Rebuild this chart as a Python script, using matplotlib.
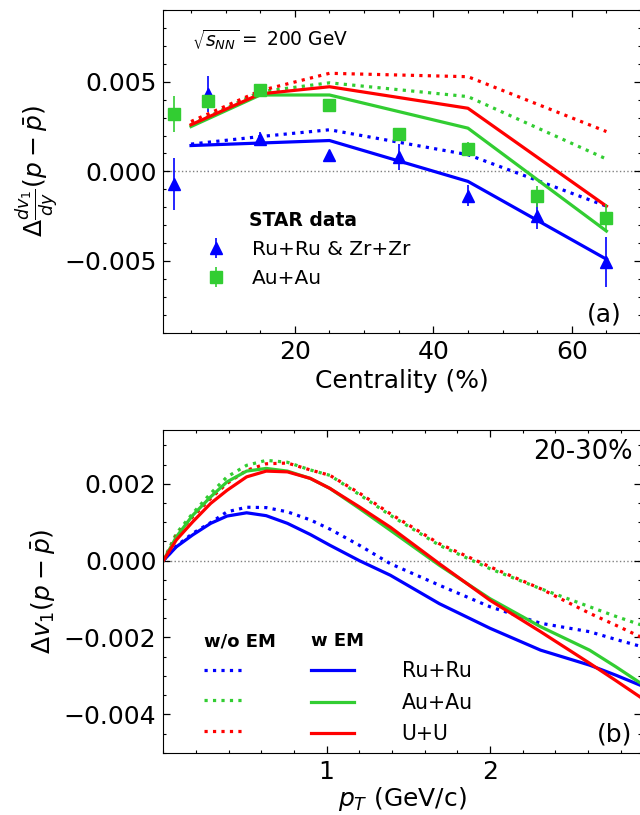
import numpy as np
import matplotlib
matplotlib.use("Agg")
import matplotlib.pyplot as plt
from matplotlib.ticker import MultipleLocator

BLUE, GREEN, RED = "#0000ff", "#32cd32", "#ff0000"

# ---- (a) STAR data vs centrality ----
cent_data = [2.5, 7.5, 15, 25, 35, 45, 55, 65]
isobar_val = [-0.0007, 0.0043, 0.0018, 0.0009, 0.0008, -0.00135, -0.0025, -0.00505]
isobar_err = [0.00145, 0.0010, 0.0004, 0.0002, 0.0007, 0.0006, 0.00074, 0.0014]
auau_val = [0.0032, 0.0039, 0.00454, 0.0037, 0.00208, 0.00124, -0.00139, -0.0026]
auau_err = [0.0010, 0.0004, 0.0002, 0.0003, 0.0003, 0.0004, 0.0006, 0.0008]

# model curves vs centrality
cent_model = [5, 15, 25, 45, 65]
ru_em_c = [0.00144, 0.00158, 0.00172, -0.00056, -0.0049]
ru_noem_c = [0.00152, 0.00194, 0.00232, 0.00093, -0.00194]
au_em_c = [0.0025, 0.00426, 0.00426, 0.00241, -0.00333]
au_noem_c = [0.0026, 0.00444, 0.00494, 0.00417, 0.00069]
u_em_c = [0.0026, 0.00432, 0.00472, 0.00352, -0.00194]
u_noem_c = [0.00278, 0.0045, 0.00547, 0.00528, 0.00222]

# ---- (b) 20-30% vs pT ----
pt = [0.0, 0.08, 0.18, 0.29, 0.39, 0.51, 0.63, 0.76, 0.90, 1.02, 1.20,
      1.39, 1.69, 2.00, 2.31, 2.61, 2.77, 2.93]
ru_em_pt = [0.0, 0.00036, 0.00067, 0.00097, 0.00116, 0.001245, 0.00117, 0.00097,
            0.00068, 0.00040, 0.0000, -0.00038, -0.00112, -0.00176, -0.00233,
            -0.00272, -0.00298, -0.00326]
ru_noem_pt = [0.0, 0.00038, 0.00071, 0.00099, 0.00127, 0.00139, 0.00138, 0.00127,
              0.00106, 0.00082, 0.00040, -0.00008, -0.00064, -0.0012, -0.00163,
              -0.00185, -0.00205, -0.00224]
au_em_pt = [0.0, 0.00062, 0.00118, 0.00166, 0.00205, 0.00233, 0.0024, 0.00233,
            0.00214, 0.00188, 0.00136, 0.00079, -0.00012, -0.00099, -0.00172,
            -0.00233, -0.00276, -0.00321]
au_noem_pt = [0.0, 0.00071, 0.00123, 0.00175, 0.00218, 0.00248, 0.00261, 0.00256,
              0.00236, 0.00222, 0.00172, 0.00118, 0.0004, -0.00021, -0.00073,
              -0.0012, -0.00145, -0.00168]
u_em_pt = [0.0, 0.00054, 0.00101, 0.00149, 0.00183, 0.00218, 0.00233, 0.00231,
           0.00214, 0.00188, 0.0014, 0.00087, -0.00008, -0.00103, -0.00185,
           -0.00267, -0.00312, -0.00358]
u_noem_pt = [0.0, 0.00065, 0.00114, 0.00162, 0.00201, 0.00235, 0.00252, 0.00254,
             0.00236, 0.00222, 0.00176, 0.00122, 0.00044, -0.00016, -0.00073,
             -0.00137, -0.00168, -0.002]

plt.rcParams["font.family"] = "DejaVu Sans"
plt.rcParams["mathtext.fontset"] = "dejavusans"
LW = 2.3


def style_axes(ax):
    ax.tick_params(which="both", direction="in", top=True, right=True,
                   labelsize=18, pad=5)
    ax.tick_params(which="major", length=5, width=0.9)
    ax.tick_params(which="minor", length=2.5, width=0.8)
    ax.axhline(0, color="gray", ls=":", lw=1, zorder=0)


fig = plt.figure(figsize=(6.4, 8.15), dpi=100)
ax1 = fig.add_axes([0.2552, 0.5918, 0.7464, 0.3959])
ax2 = fig.add_axes([0.2552, 0.0764, 0.7464, 0.3960])

# panel (a)
for vals, c in [(ru_noem_c, BLUE), (au_noem_c, GREEN), (u_noem_c, RED)]:
    ax1.plot(cent_model, vals, ls=":", color=c, lw=LW)
for vals, c in [(ru_em_c, BLUE), (au_em_c, GREEN), (u_em_c, RED)]:
    ax1.plot(cent_model, vals, ls="-", color=c, lw=LW)
eb1 = ax1.errorbar(cent_data, isobar_val, yerr=isobar_err, fmt="^", color=BLUE,
                   ms=8.5, elinewidth=1.2, capsize=0, zorder=5)
eb2 = ax1.errorbar(cent_data, auau_val, yerr=auau_err, fmt="s", color=GREEN,
                   ms=8, elinewidth=1.2, capsize=0, zorder=5)
ax1.legend([eb1, eb2], ["Ru+Ru & Zr+Zr", "Au+Au"], loc="upper left",
           bbox_to_anchor=(0.051, 0.402), borderaxespad=0, frameon=False,
           fontsize=14.5, labelspacing=0.5, handletextpad=0.8,
           title="STAR data",
           title_fontproperties={"weight": "bold", "size": 13.5})
ax1.text(0.06, 0.907, r"$\sqrt{s_{NN}}=$ 200 GeV", transform=ax1.transAxes,
         fontsize=13.4, va="center", ha="left")
ax1.text(0.96, 0.055, "(a)", transform=ax1.transAxes, fontsize=18,
         va="center", ha="right")
ax1.set_xlim(1, 70)
ax1.set_ylim(-0.009, 0.009)
ax1.xaxis.set_major_locator(MultipleLocator(20))
ax1.xaxis.set_minor_locator(MultipleLocator(5))
ax1.yaxis.set_major_locator(MultipleLocator(0.005))
ax1.yaxis.set_minor_locator(MultipleLocator(0.001))
style_axes(ax1)
ax1.set_xlabel("Centrality (%)", fontsize=18)
ax1.set_ylabel(r"$\Delta\frac{dv_1}{dy}(p-\bar{p})$", fontsize=18, labelpad=2)

# panel (b)
dotted, solid = [], []
for vals, c in [(ru_noem_pt, BLUE), (au_noem_pt, GREEN), (u_noem_pt, RED)]:
    dotted += ax2.plot(pt, vals, ls=":", color=c, lw=LW)
for vals, c in [(ru_em_pt, BLUE), (au_em_pt, GREEN), (u_em_pt, RED)]:
    solid += ax2.plot(pt, vals, ls="-", color=c, lw=LW)
bold = {"weight": "bold", "size": 13}
leg_a = ax2.legend(dotted, ["", "", ""], loc="upper left",
                   bbox_to_anchor=(0.0685, 0.399), borderaxespad=0,
                   frameon=False, fontsize=14.5, labelspacing=0.58,
                   handlelength=2.0, handletextpad=0, title="w/o EM",
                   title_fontproperties=bold, alignment="left")
ax2.add_artist(leg_a)
ax2.legend(solid, ["Ru+Ru", "Au+Au", "U+U"], loc="upper left",
           bbox_to_anchor=(0.2923, 0.399), borderaxespad=0, frameon=False,
           fontsize=14.8, labelspacing=0.55, handlelength=2.1,
           handletextpad=2.3, title="w EM", title_fontproperties=bold,
           alignment="left")
ax2.text(0.982, 0.932, "20-30%", transform=ax2.transAxes, fontsize=18.5,
         va="center", ha="right")
ax2.text(0.982, 0.055, "(b)", transform=ax2.transAxes, fontsize=18,
         va="center", ha="right")
ax2.set_xlim(0, 2.925)
ax2.set_ylim(-0.005, 0.0034)
ax2.set_xticks([1, 2])
ax2.xaxis.set_minor_locator(MultipleLocator(0.2))
ax2.yaxis.set_major_locator(MultipleLocator(0.002))
ax2.yaxis.set_minor_locator(MultipleLocator(0.0005))
style_axes(ax2)
ax2.set_xlabel(r"$p_T$ (GeV/c)", fontsize=18, labelpad=1)
ax2.set_ylabel(r"$\Delta v_1(p-\bar{p})$", fontsize=18)

fig.savefig("out.png", dpi=100)
